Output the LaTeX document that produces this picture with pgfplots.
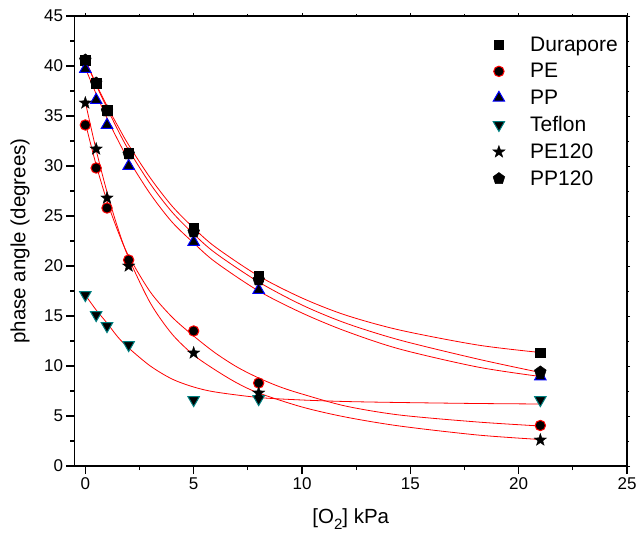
\documentclass[border=0pt]{standalone}
\usepackage{fontspec}
\setmainfont{Liberation Sans}
\usepackage{pgfplots}
\pgfplotsset{compat=1.18}
\usetikzlibrary{plotmarks}
\definecolor{tealc}{RGB}{0,128,128}
\pgfdeclareplotmark{fstar}{%
  \pgfpathmoveto{\pgfpointpolar{90}{\pgfplotmarksize}}%
  \pgfpathlineto{\pgfpointpolar{126}{0.40\pgfplotmarksize}}%
  \pgfpathlineto{\pgfpointpolar{162}{\pgfplotmarksize}}%
  \pgfpathlineto{\pgfpointpolar{198}{0.40\pgfplotmarksize}}%
  \pgfpathlineto{\pgfpointpolar{234}{\pgfplotmarksize}}%
  \pgfpathlineto{\pgfpointpolar{270}{0.40\pgfplotmarksize}}%
  \pgfpathlineto{\pgfpointpolar{306}{\pgfplotmarksize}}%
  \pgfpathlineto{\pgfpointpolar{342}{0.40\pgfplotmarksize}}%
  \pgfpathlineto{\pgfpointpolar{18}{\pgfplotmarksize}}%
  \pgfpathlineto{\pgfpointpolar{54}{0.40\pgfplotmarksize}}%
  \pgfpathclose\pgfusepathqfillstroke}

\pgfplotstableread{
x y
0 40.6
0.5 38.3
1 35.6
2 31.3
5 23.8
8 19.0
21 11.35
}\durapore
\pgfplotstableread{
x y
0 34.1
0.5 29.8
1 25.8
2 20.6
5 13.5
8 8.3
21 4.05
}\pe
\pgfplotstableread{
x y
0 39.7
0.5 36.6
1 34.1
2 30.0
5 22.4
8 17.6
21 8.95
}\pp
\pgfplotstableread{
x y
0 17.1
0.5 15.1
1 14.0
2 12.1
5 6.6
8 6.7
21 6.6
}\teflon
\pgfplotstableread{
x y
0 36.3
0.5 31.7
1 26.8
2 20.0
5 11.3
8 7.3
21 2.6
}\peonetwenty
\pgfplotstableread{
x y
0 40.6
0.5 38.3
1 35.5
2 31.2
5 23.4
8 18.6
21 9.4
}\pponetwenty

\begin{document}
\begin{tikzpicture}
\path[use as bounding box] (-74.5pt,-77pt) rectangle (564.5pt,466pt);
\begin{axis}[
  scale only axis,
  width=552.5pt, height=450pt,
  xmin=-0.5, xmax=25, ymin=0, ymax=45,
  xtick={0,5,...,25}, ytick={0,5,...,45},
  minor x tick num=1, minor y tick num=1,
  tick align=outside,
  major tick length=8pt, minor tick length=4pt,
  xtick pos=bottom, ytick pos=left,
  axis line style={line width=1.2pt},
  every tick/.style={black, line width=1.1pt},
  tick label style={font=\fontsize{17}{20}\selectfont},
  /pgf/number format/assume math mode=true,
  xlabel={[O\raisebox{-0.55ex}{\fontsize{15}{15}\selectfont 2}] kPa},
  ylabel={phase angle (degrees)},
  every axis x label/.style={at={(axis description cs:0.5,-0.118)}, anchor=center, font=\fontsize{20.5}{24}\selectfont},
  every axis y label/.style={at={(axis description cs:-0.0985,0.5)}, anchor=center, rotate=90, font=\fontsize{20.5}{24}\selectfont},
  legend style={draw=none, fill=none, at={(axis description cs:0.751,0.963)}, anchor=north west,
    font=\fontsize{21}{25}\selectfont, row sep=6.6pt, column sep=23pt},
  legend cell align=left,
]
\addplot[only marks, mark=square*, mark size=4.75pt, draw=black, fill=black] table {\durapore};
\addlegendentry{Durapore}
\addplot[only marks, mark=*, mark size=5.2pt, draw=red, fill=black, line width=1pt] table {\pe};
\addlegendentry{PE}
\addplot[only marks, mark=triangle*, mark size=6.6pt, draw=blue, fill=black, line width=1pt] table {\pp};
\addlegendentry{PP}
\addplot[only marks, mark=triangle*, mark size=6.6pt, mark options={rotate=180}, draw=tealc, fill=black, line width=1pt] table {\teflon};
\addlegendentry{Teflon}
\addplot[only marks, mark=fstar, mark size=6.6pt, draw=black, fill=black, line width=0.3pt] table {\peonetwenty};
\addlegendentry{PE120}
\addplot[only marks, mark=pentagon*, mark size=6.2pt, draw=black, fill=black] table {\pponetwenty};
\addlegendentry{PP120}

% fitted curves (read from the picture)
\addplot[red, line width=0.8pt, smooth, no marks, forget plot] coordinates {
(0,40.6)(0.5,38.2)(1,36.0)(1.5,34.0)(2,32.1)(3,28.8)(4,26.0)(5,23.8)(6,21.9)(8,19.0)(10,16.8)(12,15.1)(14.5,13.6)(18.1,12.1)(21,11.35)};
\addplot[red, line width=0.8pt, smooth, no marks, forget plot] coordinates {
(0,40.6)(0.5,38.1)(1,35.8)(1.5,33.6)(2,31.6)(3,28.2)(4,25.4)(5,23.2)(6,21.3)(8,18.4)(10,16.1)(12,14.3)(14.5,12.6)(18.1,10.7)(21,9.35)};
\addplot[red, line width=0.8pt, smooth, no marks, forget plot] coordinates {
(0,39.8)(0.5,37.2)(1,34.8)(1.5,32.6)(2,30.6)(3,27.2)(4,24.4)(5,22.3)(6,20.4)(8,17.5)(10,15.3)(12,13.5)(14.5,11.7)(18.1,9.9)(21,8.95)};
\addplot[red, line width=0.8pt, smooth, no marks, forget plot] coordinates {
(0,17.1)(0.5,15.6)(1,14.3)(1.5,12.9)(2,11.8)(3,10.0)(4,8.7)(5,7.9)(6,7.4)(8,6.85)(10,6.6)(12,6.45)(14.5,6.35)(18.1,6.25)(21,6.2)};
\addplot[red, line width=0.8pt, smooth, no marks, forget plot] coordinates {
(0,36.4)(0.5,31.6)(1,27.4)(1.5,23.8)(2,20.8)(3,16.3)(4,13.2)(5,11.1)(6,9.6)(7,8.3)(8,7.3)(10,5.9)(12,4.9)(14.5,4.0)(18.1,3.1)(21,2.65)};
\addplot[red, line width=0.8pt, smooth, no marks, forget plot] coordinates {
(0,34.3)(0.5,30.1)(1,26.5)(1.5,23.5)(2,21.0)(3,17.4)(4,14.9)(5,13.0)(6,11.3)(7,9.9)(8,8.8)(9,7.9)(10,7.2)(12,6.0)(14.5,5.1)(18.1,4.4)(21,4.0)};
\end{axis}
\begin{axis}[
  scale only axis,
  width=552.5pt, height=450pt,
  xmin=-0.5, xmax=25, ymin=0, ymax=45,
  xtick={0,5,...,25}, ytick={0,5,...,45},
  minor x tick num=1, minor y tick num=1,
  tick align=outside,
  major tick length=3pt, minor tick length=2pt,
  xtick pos=top, ytick pos=right,
  xticklabels={}, yticklabels={},
  axis line style={line width=1.2pt},
  every tick/.style={black, line width=0.8pt},
]
\addplot[draw=none, forget plot] coordinates {(0,0)};
\end{axis}
\end{tikzpicture}
\end{document}
